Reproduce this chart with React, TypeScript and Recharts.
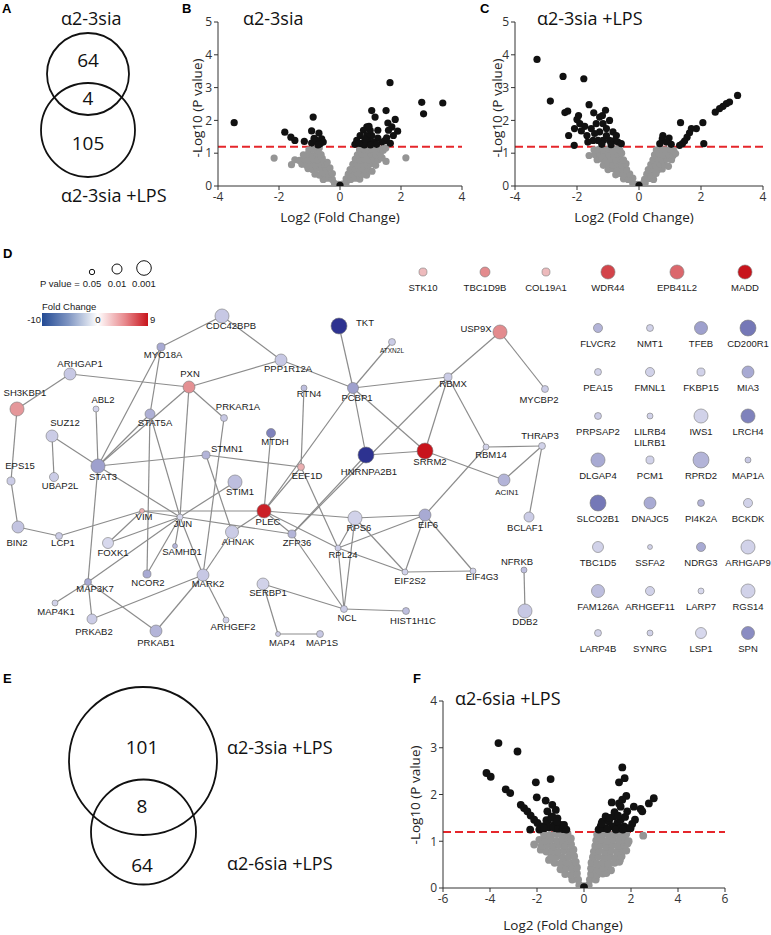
import React from 'react';
import { ScatterChart, Scatter, XAxis, YAxis, ReferenceLine } from 'recharts';

// fonts
const SANS = '"Open Sans", "DejaVu Sans", sans-serif';
const ARIAL = '"Liberation Sans", Arial, sans-serif';

type Pt = [number, number];

// ---------- volcano plots: [log2 fold change, -log10 p] ----------
const threshold = 1.2;

const bNs: Pt[] = [
  [-0.18, 0.08], [-0.05, 0.05], [0.08, 0.06], [0.2, 0.09],
  [-0.55, 0.2], [-0.4, 0.24], [-0.25, 0.2], [0.2, 0.22], [0.35, 0.2], [0.5, 0.24], [0.65, 0.21],
  [-0.82, 0.36], [-0.67, 0.33], [-0.52, 0.38], [-0.37, 0.35], [-0.25, 0.38], [0.27, 0.36], [0.42, 0.34], [0.57, 0.38], [0.72, 0.35], [0.87, 0.33],
  [-1.05, 0.53], [-0.9, 0.5], [-0.75, 0.54], [-0.6, 0.49], [-0.45, 0.52], [-0.33, 0.55], [0.33, 0.5], [0.48, 0.53], [0.63, 0.49], [0.78, 0.52], [0.93, 0.5], [1.05, 0.45],
  [-1.59, 0.65], [-1.25, 0.66], [-1.1, 0.63], [-0.95, 0.67], [-0.8, 0.64], [-0.65, 0.68], [-0.5, 0.66], [-0.42, 0.72], [0.42, 0.66], [0.57, 0.63], [0.72, 0.67], [0.87, 0.64], [1.02, 0.68], [1.17, 0.63],
  [-2.16, 0.85], [-1.48, 0.8], [-1.33, 0.78], [-1.18, 0.82], [-1.03, 0.79], [-0.88, 0.83], [-0.73, 0.8], [-0.58, 0.84], [0.5, 0.82], [0.65, 0.79], [0.8, 0.83], [0.95, 0.8], [1.1, 0.84], [1.25, 0.8], [1.38, 0.86], [1.51, 0.75], [2.16, 0.86],
  [-1.2, 0.95], [-1.05, 0.97], [-0.9, 0.93], [-0.75, 0.98], [-0.62, 0.96], [0.57, 0.95], [0.72, 0.98], [0.87, 0.94], [1.02, 0.97], [1.17, 0.95], [1.32, 0.98],
  [-1.02, 1.1], [-0.88, 1.12], [-0.74, 1.1], [-0.68, 1.16], [0.64, 1.1], [0.78, 1.13], [0.92, 1.09], [1.06, 1.12], [1.2, 1.1], [1.34, 1.12], [1.42, 1.09], [1.5, 1.16],
];
const bSig: Pt[] = [
  [-3.47, 1.93], [-1.81, 1.64], [-1.61, 1.49], [-1.48, 1.39], [-1.17, 1.36], [-0.88, 2.1], [-0.93, 1.68], [-0.69, 1.61],
  [-0.93, 1.31], [-0.6, 1.44], [-0.55, 1.34], [-0.77, 1.39], [-0.66, 1.28], [-0.72, 1.25], [-0.85, 1.45],
  [1.64, 3.15], [1.04, 2.3], [1.51, 2.3], [1.15, 2.1], [2.68, 2.55], [3.37, 2.53], [2.74, 2.2], [1.81, 2.03], [1.57, 1.92],
  [1.7, 1.8], [1.89, 1.67], [1.59, 1.7], [1.75, 1.54], [1.24, 1.7], [1.24, 1.46], [0.88, 1.8], [0.77, 1.7], [0.66, 1.54],
  [0.55, 1.39], [0.49, 1.27], [0.71, 1.29], [0.93, 1.39], [1.04, 1.54], [1.1, 1.34], [0.88, 1.54], [0.99, 1.7], [1.37, 1.34],
  [1.48, 1.39], [1.53, 1.47], [0.8, 1.25], [0.62, 1.3], [1.0, 1.25], [1.2, 1.27], [1.65, 1.3], [0.82, 1.42], [0.95, 1.82],
  [0, 0.02],
];

const cNs: Pt[] = [
  [-0.2, 0.08], [-0.06, 0.05], [0.08, 0.06], [0.2, 0.09],
  [-0.5, 0.22], [-0.35, 0.2], [-0.2, 0.24], [0.18, 0.2], [0.33, 0.23], [0.47, 0.2],
  [-0.75, 0.34], [-0.6, 0.38], [-0.45, 0.35], [-0.3, 0.37], [0.25, 0.36], [0.4, 0.33], [0.55, 0.38],
  [-1.0, 0.5], [-0.85, 0.53], [-0.7, 0.49], [-0.55, 0.52], [-0.4, 0.5], [0.3, 0.5], [0.45, 0.53], [0.6, 0.49], [0.75, 0.52],
  [-1.15, 0.63], [-1.0, 0.66], [-0.85, 0.64], [-0.7, 0.67], [-0.55, 0.63], [-0.42, 0.68], [0.38, 0.65], [0.53, 0.63], [0.68, 0.67], [0.83, 0.64], [0.95, 0.6],
  [-1.35, 0.8], [-1.2, 0.82], [-1.05, 0.78], [-0.9, 0.82], [-0.75, 0.79], [-0.6, 0.83], [-0.5, 0.8], [0.45, 0.8], [0.6, 0.83], [0.75, 0.79], [0.9, 0.82], [1.05, 0.8],
  [-1.61, 0.93], [-1.42, 0.95], [-1.27, 0.98], [-1.12, 0.94], [-0.97, 0.97], [-0.82, 0.93], [-0.67, 0.97], [-0.56, 1.0], [0.5, 0.95], [0.65, 0.98], [0.8, 0.94], [0.95, 0.97], [1.1, 0.93], [1.18, 0.99],
  [-1.45, 1.1], [-1.3, 1.12], [-1.15, 1.09], [-1.0, 1.12], [-0.85, 1.1], [-0.72, 1.13], [-0.62, 1.1], [0.56, 1.1], [0.7, 1.13], [0.85, 1.1], [1.0, 1.12], [1.12, 1.08],
];
const cSig: Pt[] = [
  [-3.29, 3.86], [-2.45, 3.34], [-1.78, 3.27], [-2.86, 2.59], [-2.39, 2.24], [-2.3, 2.28], [-1.61, 2.48], [-1.95, 2.15],
  [-2.0, 2.03], [-2.27, 1.54], [-2.09, 1.24], [-2.08, 1.75], [-1.91, 1.9], [-1.75, 1.82], [-1.68, 1.54], [-1.54, 1.75],
  [-1.46, 2.23], [-1.27, 2.1], [-1.08, 2.31], [-1.18, 2.15], [-1.38, 1.9], [-1.16, 1.9], [-0.95, 2.0], [-1.05, 1.75],
  [-1.27, 1.65], [-0.84, 1.65], [-0.73, 1.54], [-0.78, 1.39], [-0.95, 1.39], [-1.16, 1.39], [-1.32, 1.39], [-1.48, 1.39],
  [-1.65, 1.34], [-0.68, 1.34], [-0.57, 1.29], [-1.05, 1.54], [-1.43, 1.6], [-1.86, 1.68], [-1.2, 1.27], [-0.9, 1.26],
  [3.18, 2.76], [2.92, 2.56], [2.82, 2.51], [2.71, 2.43], [2.6, 2.36], [2.46, 2.25], [1.34, 1.93], [2.06, 1.93],
  [1.85, 1.75], [1.69, 1.75], [1.63, 1.62], [1.55, 1.49], [1.47, 1.37], [1.4, 1.29], [1.31, 1.24], [2.09, 1.29],
  [0.77, 1.54], [0.75, 1.44], [0.97, 1.46], [0.67, 1.29], [1.04, 1.27], [0.88, 1.34],
  [0, 0.02],
];

const fNs: Pt[] = [
  [-0.2, 0.06], [0, 0.04], [0.2, 0.06],
  [-0.5, 0.18], [-0.25, 0.18], [0.25, 0.18], [0.5, 0.18],
  [-0.8, 0.3], [-0.55, 0.28], [-0.3, 0.31], [0.3, 0.3], [0.55, 0.28], [0.8, 0.31], [0.95, 0.32],
  [-1.0, 0.4], [-0.75, 0.43], [-0.5, 0.41], [-0.3, 0.44], [0.3, 0.42], [0.55, 0.4], [0.8, 0.43], [1.05, 0.41], [1.15, 0.38],
  [-1.25, 0.54], [-1.0, 0.52], [-0.75, 0.55], [-0.5, 0.53], [-0.35, 0.56], [0.32, 0.54], [0.55, 0.52], [0.8, 0.55], [1.05, 0.53], [1.3, 0.54], [1.5, 0.56],
  [-1.49, 0.6], [-1.4, 0.66], [-1.15, 0.68], [-0.9, 0.65], [-0.65, 0.67], [-0.42, 0.68], [0.38, 0.66], [0.6, 0.68], [0.85, 0.65], [1.1, 0.67], [1.35, 0.65], [1.53, 0.6], [1.6, 0.68],
  [-1.84, 0.82], [-1.6, 0.78], [-1.35, 0.8], [-1.1, 0.77], [-0.85, 0.8], [-0.6, 0.78], [-0.45, 0.82], [0.42, 0.78], [0.65, 0.8], [0.9, 0.77], [1.15, 0.8], [1.4, 0.78], [1.65, 0.8], [1.8, 0.8],
  [-2.12, 0.93], [-1.8, 0.9], [-1.55, 0.92], [-1.3, 0.89], [-1.05, 0.92], [-0.8, 0.9], [-0.55, 0.93], [0.48, 0.9], [0.7, 0.92], [0.95, 0.89], [1.2, 0.92], [1.45, 0.9], [1.7, 0.92], [1.85, 0.95],
  [-1.9, 1.03], [-1.65, 1.02], [-1.4, 1.04], [-1.15, 1.01], [-0.9, 1.04], [-0.65, 1.02], [-0.56, 1.06], [0.52, 1.02], [0.75, 1.04], [1.0, 1.01], [1.25, 1.04], [1.5, 1.02], [1.75, 1.04], [1.9, 1.0],
  [-1.7, 1.15], [-1.45, 1.13], [-1.2, 1.16], [-0.95, 1.14], [-0.7, 1.16], [0.56, 1.14], [0.8, 1.16], [1.05, 1.13], [1.3, 1.16], [1.55, 1.14], [1.8, 1.16], [2.52, 1.12],
];
const fSig: Pt[] = [
  [-3.64, 3.1], [-2.83, 2.92], [-4.15, 2.46], [-3.97, 2.38], [-3.33, 2.11], [-3.14, 2.03], [-2.69, 1.78], [-2.55, 1.71],
  [-2.41, 1.64], [-2.27, 1.55], [-2.12, 1.46], [-1.98, 1.39], [-2.29, 1.25], [-2.05, 2.26], [-1.42, 2.33], [-2.01, 1.94],
  [-1.63, 1.87], [-1.35, 1.78], [-1.56, 1.64], [-1.2, 1.67], [-1.35, 1.53], [-1.13, 1.49], [-1.56, 1.42], [-1.27, 1.35],
  [-0.99, 1.35], [-1.77, 1.32], [-1.49, 1.3], [-1.2, 1.28], [-1.9, 1.25], [-1.7, 1.28], [-1.3, 1.3], [-1.1, 1.27],
  [-0.9, 1.26], [-0.75, 1.25], [-1.6, 1.45], [-1.4, 1.5], [-1.15, 1.42], [-0.85, 1.35],
  [1.63, 2.58], [1.73, 2.35], [1.49, 2.26], [2.97, 1.92], [2.76, 1.81], [2.41, 1.69], [2.48, 1.64], [1.8, 1.97],
  [1.63, 1.89], [1.49, 1.81], [1.18, 1.83], [2.12, 1.74], [1.84, 1.64], [2.17, 1.46], [2.05, 1.37], [1.56, 1.74],
  [0.92, 1.53], [0.78, 1.42], [0.71, 1.32], [1.06, 1.42], [1.27, 1.53], [1.42, 1.39], [1.2, 1.32], [1.56, 1.46],
  [1.7, 1.32], [0.92, 1.28], [1.84, 1.28], [1.49, 1.27], [1.98, 1.28], [0.62, 1.25], [0.8, 1.28], [1.0, 1.26],
  [1.35, 1.25], [1.65, 1.25], [0.75, 1.38], [1.1, 1.5], [1.3, 1.62], [1.45, 1.55], [1.75, 1.52],
  [0, 0.02],
];

// ---------- Venn diagrams ----------
const vennASets = ['α2-3sia', 'α2-3sia +LPS'];
const vennACounts = [64, 4, 105]; // only first, shared, only second
const vennESets = ['α2-3sia +LPS', 'α2-6sia +LPS'];
const vennECounts = [101, 8, 64];

// ---------- protein network: p value and fold change ----------
const networkStats: [string, number, number][] = [
  ['CDC42BPB', 0.0013, -2], ['MYO18A', 0.02, -3.5], ['PPP1R12A', 0.0037, -2], ['TKT', 0.0005, -9.5],
  ['ATXN2L', 0.029, -1.8], ['USP9X', 0.0013, 4], ['PCBP1', 0.006, -4], ['RBMX', 0.02, -1.8],
  ['RTN4', 0.041, -2.5], ['MYCBP2', 0.029, -1.8], ['ARHGAP1', 0.0037, -2], ['PXN', 0.0037, 3.8],
  ['SH3KBP1', 0.0013, 3.5], ['ABL2', 0.041, -1.5], ['STAT5A', 0.01, -3.2], ['PRKAR1A', 0.029, -2],
  ['SUZ12', 0.0037, -1.8], ['MTDH', 0.014, -5.5], ['STAT3', 0.0013, -4], ['STMN1', 0.02, -3],
  ['EPS15', 0.02, -1.8], ['UBAP2L', 0.014, -1.8], ['STIM1', 0.0013, -2.5], ['VIM', 0.065, 2.5],
  ['JUN', 0.041, -1.2], ['BIN2', 0.0037, -2.2], ['LCP1', 0.029, -1.8], ['FOXK1', 0.006, -1.2],
  ['SAMHD1', 0.065, -3], ['AHNAK', 0.0022, -1.8], ['PLEC', 0.0013, 8.5], ['NCOR2', 0.02, -3.5],
  ['MARK2', 0.0037, -2], ['MAP3K7', 0.029, -3.5], ['MAP4K1', 0.041, -1.5], ['PRKAB2', 0.01, -1.8],
  ['PRKAB1', 0.0037, -3], ['ARHGEF2', 0.041, -1.5], ['SERBP1', 0.0037, -1.5], ['HNRNPA2B1', 0.0005, -9.5],
  ['SRRM2', 0.0005, 9], ['RBM14', 0.041, -1.5], ['EEF1D', 0.029, 2.5], ['ACIN1', 0.0037, -3],
  ['RPS6', 0.0013, -1.5], ['EIF6', 0.0037, -3.5], ['ZFP36', 0.02, -3], ['RPL24', 0.041, -1.8],
  ['EIF2S2', 0.041, -1.5], ['EIF4G3', 0.041, -1.5], ['NCL', 0.029, -1.8], ['HIST1H1C', 0.029, -2.5],
  ['MAP4', 0.065, -1.8], ['MAP1S', 0.029, -2], ['THRAP3', 0.029, -1.5], ['BCLAF1', 0.01, -1.8],
  ['NFRKB', 0.041, -2.5], ['DDB2', 0.0013, -2],
];
const upOnlyStats: [string, number, number][] = [
  ['STK10', 0.02, 2], ['TBC1D9B', 0.01, 4], ['COL19A1', 0.02, 2],
  ['WDR44', 0.0013, 7], ['EPB41L2', 0.0013, 5.5], ['MADD', 0.0013, 9],
];
const downOnlyStats: [string, number, number][] = [
  ['FLVCR2', 0.014, -3], ['NMT1', 0.029, -1.5], ['TFEB', 0.0022, -4], ['CD200R1', 0.0005, -6],
  ['PEA15', 0.029, -1.5], ['FMNL1', 0.014, -1.5], ['FKBP15', 0.02, -1.5], ['MIA3', 0.0037, -3.5],
  ['PRPSAP2', 0.029, -1.8], ['LILRB4\nLILRB1', 0.041, -1.5], ['IWS1', 0.0013, -1.5], ['LRCH4', 0.0013, -5.5],
  ['DLGAP4', 0.0013, -3.5], ['PCM1', 0.02, -1.5], ['RPRD2', 0.0005, -3], ['MAP1A', 0.041, -2],
  ['SLCO2B1', 0.0005, -6], ['DNAJC5', 0.0037, -3.5], ['PI4K2A', 0.029, -3], ['BCKDK', 0.014, -1.5],
  ['TBC1D5', 0.006, -1.5], ['SSFA2', 0.065, -1.5], ['NDRG3', 0.014, -3.5], ['ARHGAP9', 0.0013, -1.5],
  ['FAM126A', 0.0022, -2.5], ['ARHGEF11', 0.014, -1.5], ['LARP7', 0.041, -1.2], ['RGS14', 0.0013, -1.5],
  ['LARP4B', 0.029, -1.5], ['SYNRG', 0.041, -1.5], ['LSP1', 0.006, -1.2], ['SPN', 0.0022, -5],
];
const networkEdges: [string, string][] = [
  ['CDC42BPB', 'MYO18A'], ['CDC42BPB', 'PPP1R12A'], ['MYO18A', 'STAT5A'], ['MYO18A', 'STAT3'],
  ['ARHGAP1', 'SH3KBP1'], ['ARHGAP1', 'PXN'], ['PXN', 'PPP1R12A'], ['PXN', 'PRKAR1A'], ['PXN', 'JUN'], ['PXN', 'STAT3'],
  ['PPP1R12A', 'PCBP1'], ['TKT', 'PCBP1'], ['ATXN2L', 'PCBP1'], ['PCBP1', 'RBMX'], ['USP9X', 'RBMX'], ['USP9X', 'MYCBP2'],
  ['PCBP1', 'PLEC'], ['PCBP1', 'HNRNPA2B1'], ['PCBP1', 'SRRM2'], ['RBMX', 'SRRM2'], ['RBMX', 'RBM14'], ['RBMX', 'ZFP36'],
  ['RTN4', 'EEF1D'], ['SH3KBP1', 'EPS15'], ['EPS15', 'BIN2'], ['BIN2', 'LCP1'], ['LCP1', 'VIM'], ['ABL2', 'STAT3'],
  ['SUZ12', 'UBAP2L'], ['SUZ12', 'STAT3'], ['STAT3', 'STAT5A'], ['STAT3', 'STMN1'], ['STAT3', 'JUN'], ['STAT3', 'MAP3K7'],
  ['STAT5A', 'NCOR2'], ['STAT5A', 'JUN'], ['PRKAR1A', 'MARK2'], ['STMN1', 'EEF1D'], ['STMN1', 'AHNAK'],
  ['VIM', 'JUN'], ['VIM', 'PLEC'], ['VIM', 'FOXK1'], ['FOXK1', 'JUN'], ['JUN', 'STIM1'], ['JUN', 'NCOR2'],
  ['JUN', 'SAMHD1'], ['JUN', 'MARK2'], ['JUN', 'MAP3K7'], ['JUN', 'ZFP36'],
  ['AHNAK', 'MARK2'], ['AHNAK', 'PLEC'], ['MTDH', 'PLEC'], ['PLEC', 'EEF1D'], ['PLEC', 'RPS6'], ['PLEC', 'RPL24'],
  ['PLEC', 'ZFP36'], ['EEF1D', 'RPL24'], ['HNRNPA2B1', 'SRRM2'], ['HNRNPA2B1', 'ZFP36'], ['SRRM2', 'ACIN1'],
  ['RBM14', 'THRAP3'], ['RBM14', 'EIF6'], ['THRAP3', 'ACIN1'], ['THRAP3', 'BCLAF1'],
  ['RPS6', 'RPL24'], ['RPS6', 'NCL'], ['RPS6', 'EIF6'], ['RPS6', 'EIF2S2'], ['RPL24', 'NCL'], ['RPL24', 'EIF2S2'],
  ['RPL24', 'EIF6'], ['ZFP36', 'NCL'], ['EIF6', 'EIF2S2'], ['EIF6', 'EIF4G3'], ['EIF2S2', 'EIF4G3'],
  ['NCL', 'SERBP1'], ['NCL', 'HIST1H1C'], ['SERBP1', 'MAP4'], ['MAP4', 'MAP1S'], ['NFRKB', 'DDB2'],
  ['MAP3K7', 'MAP4K1'], ['MAP3K7', 'PRKAB1'], ['MAP3K7', 'PRKAB2'], ['PRKAB2', 'MARK2'], ['PRKAB1', 'MARK2'],
  ['MARK2', 'ARHGEF2'],
];

// ---------- layout (page pixels) ----------
const nodeLayout: Record<string, Pt> = {
  CDC42BPB: [222, 316], MYO18A: [161, 347], PPP1R12A: [281, 360], TKT: [339, 326], ATXN2L: [392, 342],
  USP9X: [500, 332], PCBP1: [353, 388], RBMX: [448, 377], RTN4: [304, 388], MYCBP2: [545, 389],
  ARHGAP1: [70, 374], PXN: [189, 387], SH3KBP1: [17, 409], ABL2: [96, 409], STAT5A: [150, 414],
  PRKAR1A: [224, 418], SUZ12: [52, 436], MTDH: [271, 433], STAT3: [98, 466], STMN1: [206, 455],
  EPS15: [11, 481], UBAP2L: [54, 477], STIM1: [235, 482], VIM: [142, 511], JUN: [180, 517],
  BIN2: [18, 527], LCP1: [59, 536], FOXK1: [108, 543], SAMHD1: [175, 546], AHNAK: [232, 532],
  PLEC: [264, 511], NCOR2: [147, 574], MARK2: [203, 575], MAP3K7: [88, 582], MAP4K1: [55, 603],
  PRKAB2: [92, 619], PRKAB1: [156, 631], ARHGEF2: [226, 620], SERBP1: [263, 584], HNRNPA2B1: [366, 455],
  SRRM2: [425, 451], RBM14: [486, 447], EEF1D: [301, 467], ACIN1: [504, 480], RPS6: [355, 518],
  EIF6: [425, 515], ZFP36: [292, 534], RPL24: [338, 548], EIF2S2: [405, 572], EIF4G3: [473, 571],
  NCL: [344, 609], HIST1H1C: [406, 611], MAP4: [278, 634], MAP1S: [320, 634], THRAP3: [542, 446],
  BCLAF1: [529, 517], NFRKB: [524, 570], DDB2: [525, 611],
};
const upOnlyX = [423, 485, 546, 608, 677, 745];
const upOnlyY = 272;
const gridCols = [598, 650, 701, 748];
const gridRows = [328, 372, 416, 460, 503, 547, 591, 633];

// label centre offset from node centre
const labelOffset: Record<string, Pt> = {
  CDC42BPB: [9, 10], MYO18A: [2, 8], PPP1R12A: [7, 9], TKT: [26, -3], ATXN2L: [0, 9], USP9X: [-24, -3],
  PCBP1: [4, 10], RBMX: [5, 7], RTN4: [5, 6], MYCBP2: [-6, 11], ARHGAP1: [10, -10], PXN: [1, -13],
  SH3KBP1: [8, -16], ABL2: [7, -9], STAT5A: [5, 9], PRKAR1A: [14, -11], SUZ12: [13, -13], MTDH: [4, 9],
  STAT3: [5, 11], STMN1: [21, -6], EPS15: [9, -15], UBAP2L: [6, 9], STIM1: [5, 10], VIM: [2, 6],
  JUN: [3, 7], BIN2: [-1, 16], LCP1: [4, 7], FOXK1: [5, 10], SAMHD1: [7, 6], AHNAK: [6, 10], PLEC: [4, 11],
  NCOR2: [1, 9], MARK2: [5, 9], MAP3K7: [7, 7], MAP4K1: [1, 9], PRKAB2: [2, 13], PRKAB1: [0, 12],
  ARHGEF2: [7, 7], SERBP1: [5, 9], HNRNPA2B1: [3, 17], SRRM2: [5, 11], RBM14: [5, 8], EEF1D: [6, 9],
  ACIN1: [3, 12], RPS6: [4, 10], EIF6: [3, 10], ZFP36: [5, 9], RPL24: [5, 7], EIF2S2: [5, 9], EIF4G3: [9, 6],
  NCL: [3, 9], HIST1H1C: [7, 10], MAP4: [4, 9], MAP1S: [2, 9], THRAP3: [-2, -10], BCLAF1: [-4, 11],
  NFRKB: [-7, -8], DDB2: [0, 11],
};
const smallLabels: Record<string, number> = { ATXN2L: 6.5, ACIN1: 8 };

// size legend: p value -> radius (px)
const sizeStops: [number, number][] = [[0.08, 2.3], [0.05, 2.7], [0.01, 5], [0.001, 7.3], [0.0001, 9.6]];
function radiusFor(p: number) {
  const lp = Math.log10(p);
  for (let i = 0; i < sizeStops.length - 1; i++) {
    const [p0, r0] = sizeStops[i];
    const [p1, r1] = sizeStops[i + 1];
    const a = Math.log10(p0), b = Math.log10(p1);
    if (lp <= a && lp >= b) return r0 + ((lp - a) / (b - a)) * (r1 - r0);
  }
  return lp > Math.log10(0.08) ? 2.3 : 9.6;
}
function mix(c0: number[], c1: number[], t: number) {
  const c = c0.map((v, i) => Math.round(v + (c1[i] - v) * t));
  return `rgb(${c[0]},${c[1]},${c[2]})`;
}
function colorFor(fc: number) {
  if (fc < 0) return mix([240, 240, 250], [35, 40, 138], Math.min(1, -fc / 10));
  return mix([248, 234, 234], [200, 20, 28], Math.min(1, fc / 9));
}

const NET_TOP = 240;
const NET_H = 420;

function NodeShape(props: any) {
  const { cx, cy, payload } = props;
  if (cx == null || cy == null) return <g />;
  const r = radiusFor(payload.p);
  const [dx, dy] = labelOffset[payload.name] ?? [0, 16];
  const fs = smallLabels[payload.name] ?? 9.5;
  const lines = String(payload.name).split('\n');
  return (
    <g>
      <circle cx={cx} cy={cy} r={r} fill={colorFor(payload.fc)} stroke="#7a7a7a" strokeWidth={0.6} />
      {lines.map((t, i) => (
        <text key={i} x={cx + dx} y={cy + dy + i * 11} dy="0.35em" textAnchor="middle"
          fontSize={fs} fontFamily={ARIAL} fill="#1a1a1a">{t}</text>
      ))}
    </g>
  );
}

function Network() {
  const nodes = [
    ...networkStats.map(([name, p, fc]) => ({ name, p, fc, x: nodeLayout[name][0], y: nodeLayout[name][1] })),
    ...upOnlyStats.map(([name, p, fc], i) => ({ name, p, fc, x: upOnlyX[i], y: upOnlyY })),
    ...downOnlyStats.map(([name, p, fc], i) => ({ name, p, fc, x: gridCols[i % 4], y: gridRows[Math.floor(i / 4)] })),
  ];
  return (
    <div style={{ position: 'absolute', left: 0, top: NET_TOP }}>
      <ScatterChart width={771} height={NET_H} margin={{ top: 0, right: 0, bottom: 0, left: 0 }}>
        <XAxis type="number" dataKey="x" domain={[0, 771]} allowDataOverflow hide />
        <YAxis type="number" dataKey="y" domain={[NET_TOP, NET_TOP + NET_H]} allowDataOverflow reversed hide />
        {networkEdges.map(([a, b]) => (
          <Scatter
            key={a + '-' + b}
            data={[{ x: nodeLayout[a][0], y: nodeLayout[a][1] }, { x: nodeLayout[b][0], y: nodeLayout[b][1] }]}
            line={{ stroke: '#8c8c8c', strokeWidth: 1.2 }}
            shape={() => <g />}
            isAnimationActive={false}
          />
        ))}
        <Scatter data={nodes} shape={NodeShape} isAnimationActive={false} />
      </ScatterChart>
    </div>
  );
}

// ---------- volcano component ----------
interface VolcanoProps {
  plot: [number, number, number, number]; // left, top, width, height of plot area
  xDomain: [number, number];
  xTicks: number[];
  yDomain: [number, number];
  yTicks: number[];
  ns: Pt[];
  sig: Pt[];
  dot: number;
}
function Volcano({ plot, xDomain, xTicks, yDomain, yTicks, ns, sig, dot }: VolcanoProps) {
  const [px, py, pw, ph] = plot;
  const ml = 40, mt = 10, mr = 14, mb = 24;
  const axisStyle = { stroke: '#333', strokeWidth: 1 };
  const tickStyle = { fill: '#333', fontSize: 12, fontFamily: SANS };
  return (
    <div style={{ position: 'absolute', left: px - ml, top: py - mt }}>
      <ScatterChart width={pw + ml + mr} height={ph + mt + mb} margin={{ top: mt, right: mr, bottom: 0, left: 0 }}>
        <XAxis type="number" dataKey="x" domain={xDomain} ticks={xTicks} interval={0} allowDataOverflow
          height={mb} tickSize={4} axisLine={axisStyle} tickLine={axisStyle} tick={tickStyle} />
        <YAxis type="number" dataKey="y" domain={yDomain} ticks={yTicks} interval={0} allowDataOverflow
          width={ml} tickSize={4} axisLine={axisStyle} tickLine={axisStyle} tick={tickStyle} />
        <Scatter data={ns.map(([x, y]) => ({ x, y }))} isAnimationActive={false}
          shape={(p: any) => <circle cx={p.cx} cy={p.cy} r={dot} fill="#959595" />} />
        <Scatter data={sig.map(([x, y]) => ({ x, y }))} isAnimationActive={false}
          shape={(p: any) => <circle cx={p.cx} cy={p.cy} r={dot} fill="#111" />} />
        <ReferenceLine y={threshold} stroke="#e5262b" strokeWidth={2} strokeDasharray="8 4" />
      </ScatterChart>
    </div>
  );
}

// ---------- Venn component ----------
interface VennProps {
  box: [number, number, number, number];
  circles: [number, number, number][];
  counts: number[];
  countPos: Pt[];
}
function Venn({ box, circles, counts, countPos }: VennProps) {
  const [bx, by, bw, bh] = box;
  return (
    <div style={{ position: 'absolute', left: bx, top: by }}>
      <ScatterChart width={bw} height={bh} margin={{ top: 0, right: 0, bottom: 0, left: 0 }}>
        <XAxis type="number" dataKey="x" domain={[bx, bx + bw]} allowDataOverflow hide />
        <YAxis type="number" dataKey="y" domain={[by, by + bh]} allowDataOverflow reversed hide />
        <Scatter data={circles.map(([x, y, r]) => ({ x, y, r }))} isAnimationActive={false}
          shape={(p: any) => <circle cx={p.cx} cy={p.cy} r={p.payload.r} fill="none" stroke="#111" strokeWidth={1.8} />} />
        <Scatter data={counts.map((c, i) => ({ x: countPos[i][0], y: countPos[i][1], c }))} isAnimationActive={false}
          shape={(p: any) => (
            <text x={p.cx} y={p.cy} dy="0.35em" textAnchor="middle" fontSize={19} fontFamily={SANS} fill="#111">{p.payload.c}</text>
          )} />
      </ScatterChart>
    </div>
  );
}

function PanelLetter({ x, y, t }: { x: number; y: number; t: string }) {
  return <text x={x} y={y} fontFamily={ARIAL} fontWeight="bold" fontSize={13} fill="#000">{t}</text>;
}

export default function App() {
  const title = { fontFamily: SANS, fontSize: 18, fill: '#111' };
  const axTitle = { fontFamily: SANS, fontSize: 13.5, fill: '#222' };
  const small = { fontFamily: ARIAL, fontSize: 9.5, fill: '#1a1a1a' };
  return (
    <div style={{ position: 'relative', width: 771, height: 935, background: '#fff', overflow: 'hidden' }}>
      <style>{'body{margin:0}'}</style>

      <Venn box={[0, 0, 240, 215]} circles={[[88, 74, 41], [88, 130, 47]]}
        counts={vennACounts} countPos={[[88, 60], [88, 98], [88, 143]]} />
      <Venn box={[0, 660, 400, 275]} circles={[[143, 761, 74], [143.5, 832, 52.5]]}
        counts={vennECounts} countPos={[[142, 747], [142, 806], [142, 865]]} />

      <Volcano plot={[218, 22, 244, 164]} xDomain={[-4, 4]} xTicks={[-4, -2, 0, 2, 4]}
        yDomain={[0, 5]} yTicks={[0, 1, 2, 3, 4, 5]} ns={bNs} sig={bSig} dot={3.6} />
      <Volcano plot={[515, 22, 248, 164]} xDomain={[-4, 4]} xTicks={[-4, -2, 0, 2, 4]}
        yDomain={[0, 5]} yTicks={[0, 1, 2, 3, 4, 5]} ns={cNs} sig={cSig} dot={3.6} />
      <Volcano plot={[443, 701, 282, 187]} xDomain={[-6, 6]} xTicks={[-6, -4, -2, 0, 2, 4, 6]}
        yDomain={[0, 4]} yTicks={[0, 1, 2, 3, 4]} ns={fNs} sig={fSig} dot={3.9} />

      <Network />

      <svg width={771} height={935} style={{ position: 'absolute', left: 0, top: 0, pointerEvents: 'none' }}>
        <defs>
          <linearGradient id="fcGrad" x1="0" x2="1" y1="0" y2="0">
            <stop offset="0%" stopColor="#234a94" />
            <stop offset="25%" stopColor="#7f95c2" />
            <stop offset="52.6%" stopColor="#ffffff" />
            <stop offset="78%" stopColor="#e88a8e" />
            <stop offset="100%" stopColor="#c8141c" />
          </linearGradient>
        </defs>
        <PanelLetter x={2} y={13} t="A" />
        <PanelLetter x={182} y={13} t="B" />
        <PanelLetter x={480} y={13} t="C" />
        <PanelLetter x={3} y={258} t="D" />
        <PanelLetter x={3} y={683} t="E" />
        <PanelLetter x={413} y={683} t="F" />

        {/* Venn A set names */}
        <text x={61} y={25} {...title}>{vennASets[0]}</text>
        <text x={61} y={202} {...title}>{vennASets[1]}</text>
        {/* Venn E set names */}
        <text x={227} y={754} {...title}>{vennESets[0]}</text>
        <text x={227} y={870} {...title}>{vennESets[1]}</text>

        {/* volcano titles */}
        <text x={243} y={25} {...title}>α2-3sia</text>
        <text x={537} y={25} {...title}>α2-3sia +LPS</text>
        <text x={455} y={705} {...title}>α2-6sia +LPS</text>

        {/* axis titles */}
        <text x={340} y={222} textAnchor="middle" {...axTitle}>Log2 (Fold Change)</text>
        <text x={634} y={222} textAnchor="middle" {...axTitle}>Log2 (Fold Change)</text>
        <text x={563} y={930} textAnchor="middle" {...axTitle}>Log2 (Fold Change)</text>
        <text transform="translate(197,108) rotate(-90)" dy="0.35em" textAnchor="middle" {...axTitle}>-Log10 (P value)</text>
        <text transform="translate(497,108) rotate(-90)" dy="0.35em" textAnchor="middle" {...axTitle}>-Log10 (P value)</text>
        <text transform="translate(415,795) rotate(-90)" dy="0.35em" textAnchor="middle" {...axTitle}>-Log10 (P value)</text>

        {/* network legends */}
        <circle cx={92} cy={272} r={2.7} fill="#fff" stroke="#111" strokeWidth={1} />
        <circle cx={117} cy={269} r={5} fill="#fff" stroke="#111" strokeWidth={1} />
        <circle cx={144} cy={268} r={7.3} fill="#fff" stroke="#111" strokeWidth={1} />
        <text x={40} y={287} {...small}>P value =</text>
        <text x={92} y={287} textAnchor="middle" {...small}>0.05</text>
        <text x={117} y={287} textAnchor="middle" {...small}>0.01</text>
        <text x={144} y={287} textAnchor="middle" {...small}>0.001</text>
        <text x={42} y={310} {...small}>Fold Change</text>
        <rect x={42} y={313} width={106} height={13} fill="url(#fcGrad)" />
        <text x={41} y={323} textAnchor="end" {...small}>-10</text>
        <text x={98} y={323} textAnchor="middle" {...small}>0</text>
        <text x={150} y={323} {...small}>9</text>
      </svg>
    </div>
  );
}
